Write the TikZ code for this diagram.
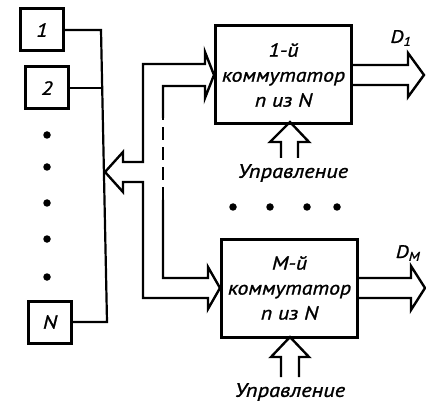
\documentclass[tikz,border=0pt]{standalone}
\usepackage{fontspec}
\setmainfont{PT Sans}
\newfontfamily\gost[FakeStretch=1.15,FakeBold=1.2]{PT Sans}
\usetikzlibrary{calc}
\begin{document}
\begin{tikzpicture}[x=1pt,y=-1pt,line join=miter,
  srcbox/.style={draw,line width=3pt,minimum width=43pt,minimum height=42pt,inner sep=0pt,font=\gost\itshape\fontsize{19}{20}\selectfont},
  swbox/.style={draw,line width=3pt,minimum width=136pt,minimum height=98pt,inner sep=0pt,align=center,font=\gost\itshape\fontsize{19}{25}\selectfont},
  wire/.style={line width=2.2pt},
  bus/.style={line width=2.4pt},
  lbl/.style={font=\gost\itshape\fontsize{19.5}{20}\selectfont,inner sep=0pt},
  dot/.style={fill,circle,inner sep=0pt,minimum size=7.5pt}]
\useasboundingbox (0,0) rectangle (426,401);

% source boxes
\node[srcbox] (s1) at (42,30) {1};
\node[srcbox] (s2) at (47,88) {2};
\node[srcbox] (sN) at (50,322) {N};
\foreach \yy [count=\i] in {135,167,203,239,277} \node[dot] (ld\i) at (47,\yy) {};

% collecting wire
\coordinate (w1) at (101,30);
\coordinate (w2) at (102,88);
\coordinate (wN) at (107,322);
\draw[wire] (s1.east) -- (w1) -- (wN) -- (sN.east);
\draw[wire] (s2.east) -- (w2);

% switch boxes
\node[swbox] (k1) at (283.5,75) {1-й\\коммутатор\\n из N};
\node[swbox] (kM) at (289.5,288) {M-й\\коммутатор\\n из N};
\foreach \xx [count=\i] in {233,270,307,337} \node[dot] (md\i) at (\xx,207) {};

% bus arrows
\coordinate (bt) at (105,172);
\draw[bus] (163,118) -- (163,86) -- (205,86) -- (205,98) -- (k1.west) -- (205,52) -- (205,64)
  -- (143,64) -- (143,162) -- (123,162) -- (123,152) -- (bt) -- (123,192) -- (123,182)
  -- (143,182) -- (143,298) -- (208,298) -- (208,309) -- (kM.west) -- (208,267) -- (208,278)
  -- (163,278) -- (163,200);
\draw[bus,dash pattern=on 13pt off 7pt] (163,200) -- (163,118);

% outputs
\coordinate (o1) at (424,75);
\coordinate (oM) at (425,288);
\draw[bus] (k1.east |- 0,65) -- (408,65) -- (408,53) -- (o1) -- (408,97) -- (408,85) -- (k1.east |- 0,85);
\draw[bus] (kM.east |- 0,278) -- (411,278) -- (411,266) -- (oM) -- (411,310) -- (411,298) -- (kM.east |- 0,298);
\node[lbl,font=\gost\itshape\fontsize{18}{18}\selectfont] (d1) at (401,38) {D\textsubscript{1}};
\node[lbl,font=\gost\itshape\fontsize{18}{18}\selectfont] (dM) at (408,253) {D\textsubscript{M}};

% control inputs
\coordinate (c1) at (290,122);
\coordinate (cM) at (290,337);
\draw[bus] (281,158) -- (281,142) -- (270,142) -- (c1) -- (309,142) -- (298,142) -- (298,158);
\draw[bus] (281,377) -- (281,357) -- (271,357) -- (cM) -- (309,357) -- (299,357) -- (299,377);
\node[lbl] (u1) at (293,173) {Управление};
\node[lbl] (uM) at (290,392) {Управление};
\end{tikzpicture}
\end{document}
